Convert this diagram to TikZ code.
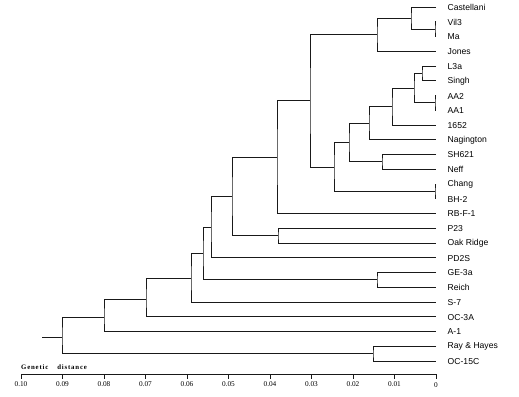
\documentclass[tikz,border=0pt]{standalone}
\usepackage{fontspec}
\usetikzlibrary{calc}
\setmainfont{Liberation Sans}
\newfontfamily\axisfont{Liberation Serif}
\newfontfamily\titlefont[LetterSpace=12]{Liberation Serif}
\begin{document}
\begin{tikzpicture}[x=1pt,y=-1pt,
  branch/.style={draw=black!90,line width=0.85pt},
  leaflab/.style={anchor=west,inner sep=0pt,font=\fontsize{8.6}{9}\selectfont},
  ticklab/.style={inner sep=0pt,font=\axisfont\fontsize{7.3}{8}\selectfont},
  axisline/.style={draw=black!90,line width=0.85pt}]
\useasboundingbox (0,0) rectangle (519,396);
% leaf tips and labels
\foreach \nm/\yy/\tx in {
  Cas/7/Castellani, Vil/21.75/Vil3, Ma/36.5/Ma, Jon/51.25/Jones,
  L3a/66/L3a, Sin/80.75/Singh, AAb/95.5/AA2, AAa/110.25/AA1,
  Ts/125/1652, Nag/139.75/Nagington, SH/154.5/SH621, Nef/169.25/Neff,
  Cha/184/Chang, BH/198.75/BH-2, RB/213.5/RB-F-1, P23/228.25/P23,
  Oak/243/Oak Ridge, PD/257.75/PD2S, GE/272.5/GE-3a, Rei/287.25/Reich,
  S7/302/S-7, OC3/316.75/OC-3A, A1/331.5/A-1, Ray/346.25/Ray \& Hayes,
  OC15/361/OC-15C}{
  \coordinate (t\nm) at (436,\yy);
  \node[leaflab] (l\nm) at (447.5,\yy+0.5) {\tx};
}
% internal nodes
\coordinate (nVM) at (435,29.125);
\coordinate (nCas) at (411,18.06);
\coordinate (nJon) at (377,34.66);
\coordinate (nLS) at (422,73.375);
\coordinate (nAA) at (435,102.875);
\coordinate (nL) at (414,88.125);
\coordinate (n1652) at (392,106.56);
\coordinate (nNag) at (369,123.16);
\coordinate (nSN) at (382,161.875);
\coordinate (nA) at (349,142.5);
\coordinate (nCB) at (435,191.375);
\coordinate (nB) at (334,166.94);
\coordinate (nT) at (310,100.8);
\coordinate (nR) at (277,157.15);
\coordinate (nPO) at (278,235.6);
\coordinate (nP) at (232,196.4);
\coordinate (nD) at (211,227.1);
\coordinate (nGR) at (377,279.9);
\coordinate (nG) at (203,253.5);
\coordinate (nS) at (191,278.5);
\coordinate (nO) at (146,299.5);
\coordinate (nAone) at (104,317);
\coordinate (nRH) at (373,353.6);
\coordinate (root) at (62,337);
\coordinate (stem) at (42,337);
% branches
\foreach \p/\a/\b in {
  nVM/tVil/tMa, nCas/tCas/nVM, nJon/nCas/tJon,
  nLS/tL3a/tSin, nAA/tAAb/tAAa, nL/nLS/nAA, n1652/nL/tTs,
  nNag/n1652/tNag, nSN/tSH/tNef, nA/nNag/nSN, nCB/tCha/tBH,
  nB/nA/nCB, nT/nJon/nB, nR/nT/tRB, nPO/tP23/tOak, nP/nR/nPO,
  nD/nP/tPD, nGR/tGE/tRei, nG/nD/nGR, nS/nG/tS7, nO/nS/tOC3,
  nAone/nO/tA1, nRH/tRay/tOC15, root/nAone/nRH}{
  \draw[branch] (\a) -| (\p) |- (\b);
}
\draw[branch] (stem) -- (root);
% axis
\coordinate (ax0) at (21,374);
\coordinate (ax1) at (436,374);
\draw[axisline] (ax0) -- (ax1);
\foreach \i/\lab in {0/0.10,1/0.09,2/0.08,3/0.07,4/0.06,5/0.05,6/0.04,7/0.03,8/0.02,9/0.01}{
  \draw[axisline] ($(ax0)+(41.5*\i,0)$) coordinate (tk\i) -- ++(0,4.5);
  \node[ticklab] (tl\i) at ($(tk\i)+(0,10)$) {\lab};
}
\draw[axisline] (ax1) -- ++(0,4.5);
\node[ticklab] (tl10) at ($(ax1)+(0,11)$) {0};
\node[anchor=west,inner sep=0pt,font=\titlefont\bfseries\fontsize{6.8}{8}\selectfont] (gd) at (21,367) {Genetic\hspace{9pt}distance};
\end{tikzpicture}
\end{document}
